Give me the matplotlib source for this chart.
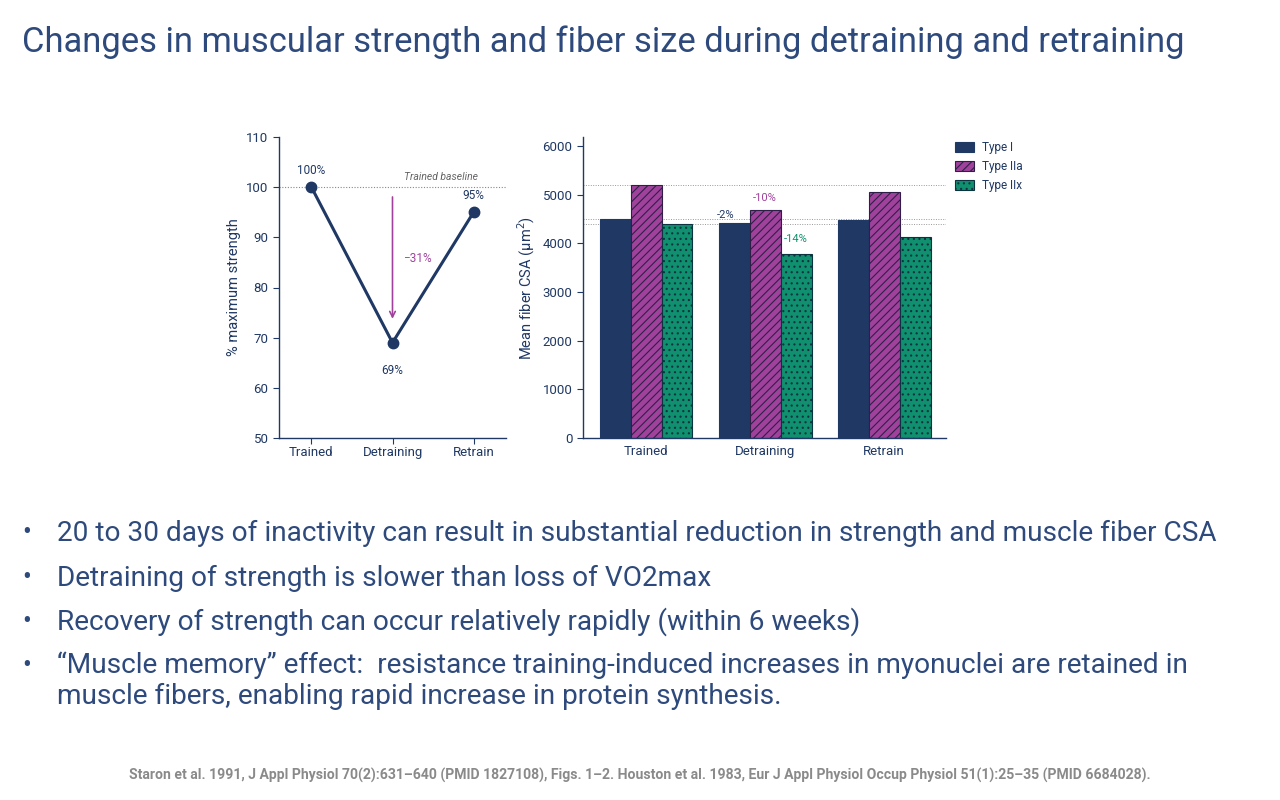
import matplotlib.pyplot as plt
import matplotlib as mpl
import numpy as np

plt.rcParams['font.family'] = ['Roboto', 'DejaVu Sans']
mpl.rcParams['hatch.linewidth'] = 0.8

NAVY = '#1f3864'
PURPLE = '#a0429c'
GREEN = '#10906e'
TXT = '#2e4a7c'

# strength data
phases = ['Trained', 'Detraining', 'Retrain']
strength = [100, 69, 95]
strength_labels = ['100%', '69%', '95%']

# fiber CSA data
types = ['Type I', 'Type IIa', 'Type IIx']
csa_type1 = [4500, 4410, 4480]
csa_type2a = [5200, 4680, 5050]
csa_type2x = [4400, 3780, 4130]
detrain_pct = ['-2%', '-10%', '-14%']

bullets = [
    "20 to 30 days of inactivity can result in substantial reduction in strength and muscle fiber CSA",
    "Detraining of strength is slower than loss of VO2max",
    "Recovery of strength can occur relatively rapidly (within 6 weeks)",
    "\u201cMuscle memory\u201d effect:  resistance training-induced increases in myonuclei are retained in\nmuscle fibers, enabling rapid increase in protein synthesis.",
]
source = ("Staron et al. 1991, J Appl Physiol 70(2):631\u2013640 (PMID 1827108), Figs. 1\u20132. "
          "Houston et al. 1983, Eur J Appl Physiol Occup Physiol 51(1):25\u201335 (PMID 6684028).")

fig = plt.figure(figsize=(12.8, 8), dpi=100)
fig.text(22/1280, 1 - 42/800, "Changes in muscular strength and fiber size during detraining and retraining",
         fontsize=24.85, color=TXT, va='center', ha='left')

def style(ax):
    for s in ['top', 'right']:
        ax.spines[s].set_visible(False)
    for s in ['left', 'bottom']:
        ax.spines[s].set_color(NAVY)
        ax.spines[s].set_linewidth(1.0)
    ax.tick_params(colors=NAVY, labelsize=9.5, length=4, width=0.8)

# left: strength
ax1 = fig.add_axes([279/1280, 1 - 438/800, 227/1280, 301/800])
style(ax1)
x = np.arange(len(phases))
ax1.axhline(100, color='#888888', lw=0.8, ls=(0, (1, 1.5)), zorder=1)
ax1.plot(x, strength, color=NAVY, lw=2.2, marker='o', ms=7.5, zorder=3)
offs = [3.4, -5.5, 3.4]
for xi, v, lab, o in zip(x, strength, strength_labels, offs):
    ax1.text(xi, v + o, lab, ha='center', va='center', fontsize=8.5, color=NAVY)
ax1.annotate('', xy=(1, 73.2), xytext=(1, 98.6),
             arrowprops=dict(arrowstyle='->', color=PURPLE, lw=1.2))
ax1.text(1.13, 85.8, '\u221231%', fontsize=8.5, color=PURPLE, ha='left', va='center')
ax1.text(2.05, 102, 'Trained baseline', fontsize=7.5, color='#666666', style='italic',
         ha='right', va='center')
ax1.set_xlim(-0.4, 2.4)
ax1.set_ylim(50, 110)
ax1.set_yticks(range(50, 111, 10))
ax1.set_xticks(x)
ax1.set_xticklabels(phases)
ax1.tick_params(axis='x', pad=2)
ax1.set_ylabel('% maximum strength', fontsize=10.5, color=NAVY)

# right: fiber CSA
ax2 = fig.add_axes([583/1280, 1 - 438/800, 363/1280, 301/800])
style(ax2)
w = 0.26
for ref in [csa_type2a[0], csa_type1[0], csa_type2x[0]]:
    ax2.axhline(ref, color='#999999', lw=0.7, ls=(0, (1, 1.5)), zorder=0)
ax2.bar(x - w, csa_type1, w, color=NAVY, edgecolor=NAVY, lw=0.8, label=types[0], zorder=2)
ax2.bar(x, csa_type2a, w, color=PURPLE, edgecolor='#2f1f48', hatch='////', lw=0.8,
        label=types[1], zorder=2)
ax2.bar(x + w, csa_type2x, w, color=GREEN, edgecolor='#0d3340', hatch='...', lw=0.8,
        label=types[2], zorder=2)
ax2.text(1 - w - 0.07, csa_type1[1] + 170, detrain_pct[0], fontsize=8, color=NAVY, ha='center', va='center')
ax2.text(1, csa_type2a[1] + 250, detrain_pct[1], fontsize=8, color=PURPLE, ha='center', va='center')
ax2.text(1 + w, csa_type2x[1] + 300, detrain_pct[2], fontsize=8, color=GREEN, ha='center', va='center')
ax2.set_xlim(-0.53, 2.52)
ax2.set_ylim(0, 6185)
ax2.set_yticks(range(0, 6001, 1000))
ax2.set_xticks(x)
ax2.set_xticklabels(phases)
ax2.tick_params(axis='x', length=0, pad=5)
ax2.set_ylabel('Mean fiber CSA (\u03bcm$^2$)', fontsize=10.5, color=NAVY)
ax2.legend(loc='upper left', bbox_to_anchor=(1.005, 1.01), frameon=False, fontsize=8.5,
           handlelength=1.6, handleheight=0.9, handletextpad=0.7, labelcolor=NAVY,
           borderaxespad=0.2, labelspacing=0.5)

# bullets
ys = [533, 578, 622, 666]
for y, t in zip(ys, bullets):
    fig.text(22/1280, 1 - y/800, '\u2022', fontsize=19, color=TXT, va='center', ha='left')
    fig.text(57/1280, 1 - y/800, t, fontsize=20.2, color=TXT, va='top' if '\n' in t else 'center',
             ha='left', linespacing=1.2)
fig.texts[-1].set_y(1 - 651/800)

fig.text(640/1280, 1 - 775/800, source, fontsize=10.1, color='#8a8a8a', weight='bold',
         ha='center', va='center')

fig.savefig('out.png', dpi=100, facecolor='white')
